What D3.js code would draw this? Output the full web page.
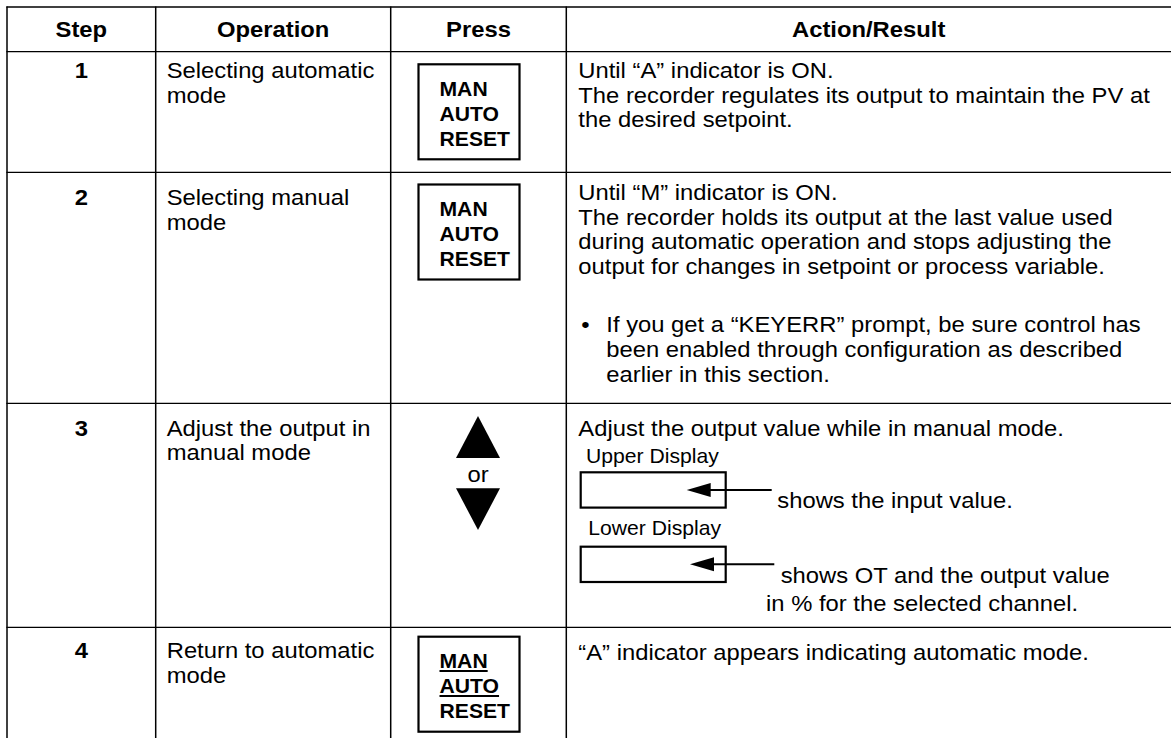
<!DOCTYPE html>
<html><head><meta charset="utf-8">
<script src="https://cdn.jsdelivr.net/npm/d3@7/dist/d3.min.js"></script>
<style>html,body{margin:0;padding:0;background:#fff;overflow:hidden}</style>
</head><body><svg id="chart" width="1171" height="738"></svg>
<script>
// ---------- data ----------
const columns = ["Step", "Operation", "Press", "Action/Result"];
const steps = ["1", "2", "3", "4"];
const operations = [
  ["Selecting automatic", "mode"],
  ["Selecting manual", "mode"],
  ["Adjust the output in", "manual mode"],
  ["Return to automatic", "mode"]
];
const pressKeys = ["MAN", "AUTO", "RESET"];
const pressType = ["button", "button", "arrows", "button"];
const underlinedKeys = [[], [], [], ["MAN", "AUTO"]];
const arrowWord = "or";
const action1 = ["Until \u201CA\u201D indicator is ON.", "The recorder regulates its output to maintain the PV at", "the desired setpoint."];
const action2 = ["Until \u201CM\u201D indicator is ON.", "The recorder holds its output at the last value used", "during automatic operation and stops adjusting the", "output for changes in setpoint or process variable."];
const action2Bullet = ["If you get a \u201CKEYERR\u201D prompt, be sure control has", "been enabled through configuration as described", "earlier in this section."];
const action3 = ["Adjust the output value while in manual mode."];
const displayLabels = ["Upper Display", "Lower Display"];
const displayNotes = [["shows the input value."], ["shows OT and the output value", "in % for the selected channel."]];
const action4 = ["\u201CA\u201D indicator appears indicating automatic mode."];

// ---------- layout ----------
const W = 1171, H = 738;
const KX = 1.058;              // horizontal stretch of the reference glyphs
const FONT = "'Liberation Sans', Arial, Helvetica, sans-serif";
const FS = 22.5, FS_SMALL = 20, LH = 24.5;

const colX = d3.scaleOrdinal().domain(d3.range(5)).range([7, 155.7, 390.7, 566.3, 1171]);
const rowY = d3.scaleOrdinal().domain(d3.range(6)).range([7, 51.7, 172.3, 403.3, 627.3, 738]);
const rowBase = d3.scaleOrdinal().domain(d3.range(4)).range([78, 205, 435.5, 658]);
const actBase = d3.scaleOrdinal().domain(d3.range(4)).range([78, 200, 435.5, 660]);

const svg = d3.select("#chart");
svg.append("rect").attr("width", W).attr("height", H).attr("fill", "#fff");
const g = svg.append("g");

function txt(x, y, s, o = {}) {
  return g.append("text")
    .attr("transform", `translate(${x},${y}) scale(${KX},1)`)
    .attr("font-family", FONT)
    .attr("font-size", o.size || FS)
    .attr("font-weight", o.bold ? "bold" : "normal")
    .attr("text-anchor", o.anchor || "start")
    .attr("fill", "#000")
    .text(s);
}

// ---------- grid ----------
const hLines = [0, 1, 2, 3, 4];
g.selectAll("line.h").data(hLines).join("line").attr("class", "h")
  .attr("x1", colX(0) - 0.6).attr("x2", W)
  .attr("y1", d => rowY(d)).attr("y2", d => rowY(d))
  .attr("stroke", "#000").attr("stroke-width", 1.3);
const vLines = [0, 1, 2, 3];
g.selectAll("line.v").data(vLines).join("line").attr("class", "v")
  .attr("x1", d => colX(d)).attr("x2", d => colX(d))
  .attr("y1", rowY(0) - 0.6).attr("y2", H)
  .attr("stroke", "#000").attr("stroke-width", 1.5);

// ---------- header ----------
columns.forEach((c, i) => {
  txt((colX(i) + colX(i + 1)) / 2, 37, c, { bold: true, anchor: "middle" });
});

// ---------- step + operation ----------
steps.forEach((s, i) => {
  txt((colX(0) + colX(1)) / 2, rowBase(i), s, { bold: true, anchor: "middle" });
  operations[i].forEach((line, j) => txt(colX(1) + 11, rowBase(i) + j * LH, line));
});

// ---------- press column ----------
const btnX = 418.5, btnW = 101, btnH = 95;
const btnTop = [64.3, 184.5, null, 636.7];
pressType.forEach((t, i) => {
  if (t === "button") {
    const top = btnTop[i];
    g.append("rect").attr("x", btnX).attr("y", top).attr("width", btnW).attr("height", btnH)
      .attr("fill", "none").attr("stroke", "#000").attr("stroke-width", 2.2);
    pressKeys.forEach((k, j) => {
      const y = top + 31.7 + j * 25;
      const tt = txt(btnX + 21, y, k, { bold: true, size: FS_SMALL });
      if (underlinedKeys[i].includes(k)) {
        const w = tt.node().getComputedTextLength() * KX;
        g.append("line").attr("x1", btnX + 21).attr("x2", btnX + 21 + w)
          .attr("y1", y + 2.6).attr("y2", y + 2.6).attr("stroke", "#000").attr("stroke-width", 1.8);
      }
    });
  } else {
    const cx = 478;
    const tri = d3.line();
    g.append("path").attr("d", tri([[cx, 416], [cx + 22, 458], [cx - 22, 458]]) + "Z").attr("fill", "#000");
    g.append("path").attr("d", tri([[cx - 22, 488.3], [cx + 22, 488.3], [cx, 530]]) + "Z").attr("fill", "#000");
    txt(cx, 481.5, arrowWord, { anchor: "middle" });
  }
});

// ---------- action column ----------
const ax = colX(3) + 12;
action1.forEach((l, j) => txt(ax, actBase(0) + j * LH, l));
action2.forEach((l, j) => txt(ax, actBase(1) + j * LH, l));
txt(ax + 3, 332, "\u2022");
action2Bullet.forEach((l, j) => txt(ax + 28, 332 + j * 25, l));
action3.forEach((l, j) => txt(ax, actBase(2) + j * LH, l));
action4.forEach((l, j) => txt(ax, actBase(3) + j * LH, l));

// displays
const dispLabelBase = [462.7, 535];
const dispLabelX = [586, 588.3];
const dispTop = [472.3, 546.7];
const dispH = 35.3, dispX = 580.7, dispW = 145;
const arrowTipX = [686.7, 690];
const lineEndX = [771.7, 774.3];
const noteX = [[777.3], [780.7, 766]];
const noteBase = [[508.3], [582.7, 610.7]];
displayLabels.forEach((lab, i) => {
  txt(dispLabelX[i], dispLabelBase[i], lab, { size: FS_SMALL });
  g.append("rect").attr("x", dispX).attr("y", dispTop[i]).attr("width", dispW).attr("height", dispH)
    .attr("fill", "none").attr("stroke", "#000").attr("stroke-width", 2.2);
  const cy = dispTop[i] + dispH / 2;
  const tip = arrowTipX[i];
  g.append("line").attr("x1", tip + 20).attr("x2", lineEndX[i]).attr("y1", cy).attr("y2", cy)
    .attr("stroke", "#000").attr("stroke-width", 2);
  g.append("path").attr("d", d3.line()([[tip, cy], [tip + 24, cy - 7], [tip + 24, cy + 7]]) + "Z").attr("fill", "#000");
  displayNotes[i].forEach((n, j) => txt(noteX[i][j], noteBase[i][j], n));
});
</script></body></html>
